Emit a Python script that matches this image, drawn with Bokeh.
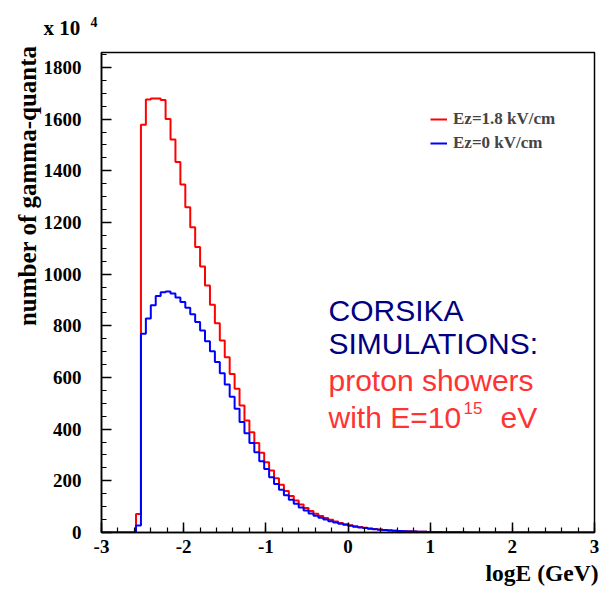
import numpy as np
from bokeh.plotting import figure
from bokeh.models import Label, Legend, LegendItem, SingleIntervalTicker, Range1d, Title
from bokeh.embed import file_html
from bokeh.resources import INLINE

# ---------------- data (counts in units of 10^4) ----------------
x_min, x_max = -3.0, 3.0
n_bins = 100
first_bin = 7          # index of first non-empty bin
y_max = 1858

red_counts = [72, 1578, 1676, 1680, 1680, 1674, 1601, 1521, 1434, 1347,
              1259, 1182, 1105, 1030, 956, 882, 810, 743, 678, 614,
              556, 492, 434, 388, 346, 309, 272, 240, 210, 185,
              161, 141, 124, 108, 95, 83, 73, 64, 56, 49,
              43, 37, 32, 28, 24, 21, 18, 15.5, 13.5, 11.5,
              10, 8.5, 7.2, 6.1, 5.2, 4.4, 3.7, 3.1, 2.6, 2.2,
              1.8, 1.5, 1.2, 1.0, 0.8, 0.6, 0.5, 0.4, 0.3, 0.2,
              0.15, 0.1]
blue_counts = [27, 769, 828, 880, 915, 930, 933, 925, 910, 892,
               870, 845, 815, 782, 740, 702, 660, 616, 573, 525,
               479, 428, 384, 346, 311, 276, 246, 214, 188, 165,
               144, 127, 111, 97, 85, 74, 65, 57, 50, 44,
               39, 34, 30, 26, 22.5, 19.5, 17, 14.5, 12.5, 10.8,
               9.3, 8, 6.8, 5.8, 5, 4.2, 3.6, 3, 2.5, 2.1,
               1.8, 1.5, 1.2, 1.0, 0.8, 0.6, 0.5, 0.4, 0.3, 0.2,
               0.15, 0.1]

series_labels = ["Ez=1.8 kV/cm", "Ez=0 kV/cm"]
x_ticks = [-3, -2, -1, 0, 1, 2, 3]
x_tick_labels = ["-3", "-2", "-1", "0", "1", "2", "3"]
y_ticks = [0, 200, 400, 600, 800, 1000, 1200, 1400, 1600, 1800]
y_tick_labels = ["0", "200", "400", "600", "800", "1000", "1200", "1400", "1600", "1800"]


def full(counts):
    arr = np.zeros(n_bins)
    arr[first_bin:first_bin + len(counts)] = counts
    return np.append(arr, 0.0)


edges = np.linspace(x_min, x_max, n_bins + 1)

# ---------------- figure ----------------
W, H = 613, 592
FL, FR, FT, FB = 101, 594, 52, 532   # frame edges in canvas pixels

p = figure(width=W, height=H, output_backend="svg", toolbar_location=None,
           x_range=Range1d(x_min, x_max), y_range=Range1d(0, y_max),
           min_border_left=FL, min_border_right=W - FR,
           min_border_top=FT, min_border_bottom=H - FB)
p.title.visible = False
p.xgrid.visible = False
p.ygrid.visible = False
p.background_fill_color = "white"
p.border_fill_color = "white"
p.outline_line_color = "black"
p.outline_line_width = 1.5

r_red = p.step(edges, full(red_counts), mode="after", line_color="#ff0000", line_width=2)
r_blue = p.step(edges, full(blue_counts), mode="after", line_color="#0000ff", line_width=2)

SERIF = "Liberation Serif"
p.xaxis.ticker = SingleIntervalTicker(interval=1, num_minor_ticks=5)
p.yaxis.ticker = SingleIntervalTicker(interval=200, num_minor_ticks=4)
p.xaxis.major_label_overrides = {t: l for t, l in zip(x_ticks, x_tick_labels)}
p.yaxis.major_label_overrides = {t: l for t, l in zip(y_ticks, y_tick_labels)}
for ax in (p.xaxis[0], p.yaxis[0]):
    ax.axis_line_color = "black"
    ax.axis_line_width = 1.5
    ax.major_tick_in = 10
    ax.major_tick_out = 0
    ax.minor_tick_in = 5
    ax.minor_tick_out = 0
    ax.major_tick_line_width = 1.5
    ax.minor_tick_line_width = 1.2
    ax.major_label_text_font = SERIF
    ax.major_label_text_font_style = "bold"
    ax.major_label_text_font_size = "19px"
    ax.major_label_text_color = "black"
p.yaxis.major_label_standoff = 20
p.xaxis.major_label_standoff = 7

# axis titles (as side-panel titles so they are not clipped by the frame)
t_x = Title(text="logE (GeV)", align="right", offset=-4, standoff=5,
            text_font=SERIF, text_font_style="bold", text_font_size="23.5px",
            text_color="black")
p.add_layout(t_x, "below")

t_y = Title(text="number of gamma-quanta", align="right", offset=-7, standoff=0,
            text_font=SERIF, text_font_style="bold", text_font_size="25px",
            text_color="black")
p.add_layout(t_y, "left")

t_scale = Title(text="x 10", align="left", offset=43 - FL, standoff=25,
                text_font=SERIF, text_font_style="bold", text_font_size="21px",
                text_color="black")
p.add_layout(t_scale, "above")
t_exp = Title(text="4", align="left", offset=90 - FL, standoff=-50,
              text_font=SERIF, text_font_style="bold", text_font_size="14px",
              text_color="black")
p.add_layout(t_exp, "above")


def lab(text, cx, cy, size, color, font="Liberation Sans"):
    p.add_layout(Label(x=cx - FL, y=FB - cy, x_units="screen", y_units="screen",
                       text=text, text_font=font, text_font_style="normal",
                       text_font_size=f"{size}px", text_color=color,
                       text_align="left", text_baseline="alphabetic"))


# annotation
NAVY = "#000080"
PINK = "#ff3333"
lab("CORSIKA", 328, 310, 30, NAVY)
lab("SIMULATIONS:", 328, 343, 30, NAVY)
lab("proton showers", 328, 380, 30, PINK)
lab("with E=10", 328, 417, 30, PINK)
lab("15", 463, 407, 17, PINK)
lab("eV", 500, 417, 30, PINK)

# legend
legend = Legend(items=[LegendItem(label=series_labels[0], renderers=[r_red]),
                       LegendItem(label=series_labels[1], renderers=[r_blue])],
                location=(430 - FL, FB - 153),
                border_line_alpha=0, background_fill_alpha=0,
                padding=0, margin=0, spacing=4,
                glyph_width=17, glyph_height=20, label_height=20,
                label_standoff=6,
                label_text_font=SERIF, label_text_font_style="bold",
                label_text_font_size="17px", label_text_baseline="alphabetic")
p.add_layout(legend, "center")

open("out.html", "w").write(file_html(p, INLINE))
